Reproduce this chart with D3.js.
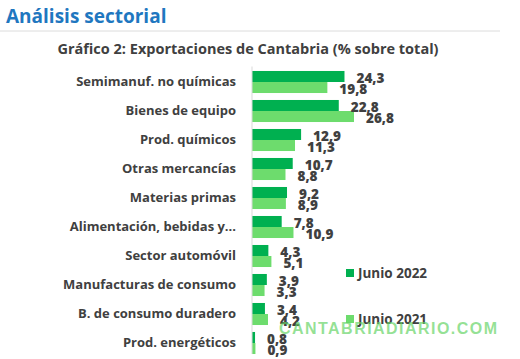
<!DOCTYPE html>
<html><head><meta charset="utf-8">
<script src="https://cdn.jsdelivr.net/npm/d3@7"></script>
<style>body{margin:0;background:#fff}svg{display:block}</style>
</head><body>
<script>
const categories = ["Semimanuf. no químicas","Bienes de equipo","Prod. químicos","Otras mercancías","Materias primas","Alimentación, bebidas y...","Sector automóvil","Manufacturas de consumo","B. de consumo duradero","Prod. energéticos"];
const junio2022 = [24.3,22.8,12.9,10.7,9.2,7.8,4.3,3.9,3.4,0.8];
const junio2021 = [19.8,26.8,11.3,8.8,8.9,10.9,5.1,3.3,4.2,0.9];
const seriesNames = ["Junio 2022","Junio 2021"];
const colors = ["#00b050","#6ddc6d"];
const fmt = v => v.toFixed(1).replace(".", ",");

const W=520,H=359;
const svg=d3.select("body").append("svg").attr("width",W).attr("height",H);
const font="'Open Sans', sans-serif";

svg.append("text").attr("x",6).attr("y",23).attr("font-family",font).attr("font-weight",700)
  .attr("font-size",19).attr("fill","#1f77c0").text("Análisis sectorial");
svg.append("line").attr("x1",0).attr("x2",500).attr("y1",31).attr("y2",31).attr("stroke","#dcdcdc").attr("stroke-width",1);
svg.append("text").attr("x",248).attr("y",54).attr("text-anchor","middle").attr("font-family",font).attr("font-weight",700)
  .attr("font-size",14.5).attr("fill","#404040").text("Gráfico 2: Exportaciones de Cantabria (% sobre total)");

const x=d3.scaleLinear().domain([0,26.8]).range([252,354]);
const y=d3.scaleBand().domain(categories).range([67.5,357.5]).paddingInner(0.24).paddingOuter(0.12);
const sub=d3.scaleBand().domain(seriesNames).range([0,y.bandwidth()]);

const series=[junio2022,junio2021];
const g=svg.append("g");
series.forEach((vals,si)=>{
  g.selectAll(null).data(categories).enter().append("rect")
    .attr("x",x(0)).attr("y",c=>y(c)+sub(seriesNames[si]))
    .attr("width",(c,i)=>x(vals[i])-x(0)).attr("height",sub.bandwidth())
    .attr("fill",colors[si]);
});
series.forEach((vals,si)=>{
  g.selectAll(null).data(categories).enter().append("text")
    .attr("x",(c,i)=>x(vals[i])+12).attr("y",c=>y(c)+sub(seriesNames[si])+sub.bandwidth()/2+6.5)
    .attr("font-family",font).attr("font-weight",800).attr("font-size",13.5).attr("fill","#404040")
    .text((c,i)=>fmt(vals[i]));
});

// axis
const ax=svg.append("g").attr("transform",`translate(${x(0)},0)`)
  .call(d3.axisLeft(y).tickSize(0).tickPadding(16));
ax.select(".domain").attr("stroke","#d9d9d9").attr("d","M0,66.5V354");
ax.selectAll("text").attr("font-family",font).attr("font-weight",700).attr("font-size",13).attr("fill","#404040");

// legend
const leg=svg.append("g");
seriesNames.forEach((n,i)=>{
  const ly=273+i*46;
  leg.append("rect").attr("x",346).attr("y",ly-4).attr("width",8).attr("height",8).attr("fill",colors[i]);
  leg.append("text").attr("x",358).attr("y",ly+4.5).attr("font-family",font).attr("font-weight",700)
    .attr("font-size",13.5).attr("fill","#404040").text(n);
});

// watermark
svg.append("text").attr("x",279).attr("y",334).attr("font-family","'Liberation Sans', Arial, sans-serif")
  .attr("font-weight",700).attr("font-size",16).attr("fill","#66d466").attr("fill-opacity",0.7).attr("textLength",218)
  .text("CANTABRIADIARIO.COM");
</script>
</body></html>
